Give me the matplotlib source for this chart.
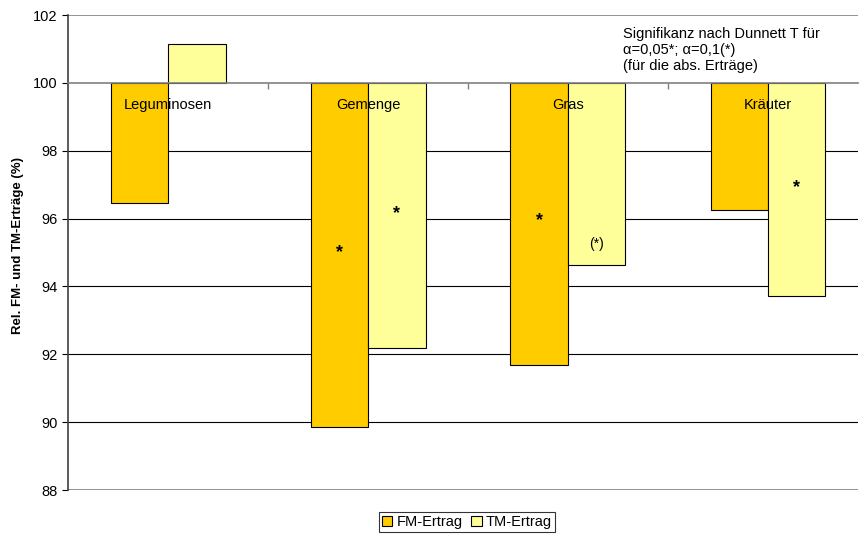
import numpy as np
import matplotlib.pyplot as plt

plt.rcParams['font.family'] = ['Liberation Sans', 'DejaVu Sans']

categories = ['Leguminosen', 'Gemenge', 'Gras', 'Kräuter']
fm_ertrag = [96.46, 89.86, 91.69, 96.24]
tm_ertrag = [101.15, 92.19, 94.64, 93.72]
# significance marks: (category index, series, y position, text)
marks = [(1, 'FM', 95.0, '*'), (1, 'TM', 96.15, '*'),
         (2, 'FM', 95.93, '*'), (2, 'TM', 95.25, '(*)'),
         (3, 'TM', 96.9, '*')]

fig = plt.figure(figsize=(8.59, 5.35), dpi=100)
ax = fig.add_axes([68 / 859, 1 - 490 / 535, 790 / 859, 475 / 535])

x = np.arange(len(categories))
w = 0.2875
base = 100
ax.bar(x - w / 2, np.array(fm_ertrag) - base, w, bottom=base, color='#FFCC00',
       edgecolor='black', linewidth=0.8, label='FM-Ertrag', zorder=3)
ax.bar(x + w / 2, np.array(tm_ertrag) - base, w, bottom=base, color='#FFFF99',
       edgecolor='black', linewidth=0.8, label='TM-Ertrag', zorder=3)

for g in [90, 92, 94, 96, 98]:
    ax.axhline(g, color='black', linewidth=0.8, zorder=1)
for g in [88, 102]:
    ax.axhline(g, color='#808080', linewidth=1.2, zorder=1)

ax.set_xlim(-0.5, 3.45)
ax.set_ylim(88, 102)
ax.set_yticks(np.arange(88, 103, 2))
ax.tick_params(axis='y', labelsize=10.5, length=4, width=0.8)

for s in ['top', 'right']:
    ax.spines[s].set_visible(False)
ax.spines['left'].set_linewidth(1.2)
ax.spines['left'].set_color('#404040')
ax.spines['bottom'].set_position(('data', 100))
ax.spines['bottom'].set_color('#808080')
ax.spines['bottom'].set_linewidth(1.2)
ax.spines['bottom'].set_zorder(4)
ax.set_xticks([0.5, 1.5, 2.5])
ax.set_xticklabels([])
ax.tick_params(axis='x', direction='out', length=4, width=1, color='#808080')

for i, c in enumerate(categories):
    ax.text(i, 99.35, c, ha='center', va='center', fontsize=10.5, zorder=5)

for i, s, yv, t in marks:
    xv = i - w / 2 if s == 'FM' else i + w / 2
    if t == '*':
        ax.text(xv, yv, t, ha='center', va='center', fontsize=13,
                fontweight='bold', zorder=5)
    else:
        ax.text(xv, yv, t, ha='center', va='center', fontsize=10, zorder=5)

ax.text(0.7025, 0.975, 'Signifikanz nach Dunnett T für\nα=0,05*; α=0,1(*)\n(für die abs. Erträge)',
        transform=ax.transAxes, ha='left', va='top', fontsize=10.5, linespacing=1.2)

ax.set_ylabel('Rel. FM- und TM-Erträge (%)', fontsize=9.5, fontweight='bold')
ax.yaxis.set_label_coords(-0.0557, 0.515)

leg = fig.legend(loc='center', bbox_to_anchor=(467 / 859, 1 - 522 / 535), ncol=2,
                 fontsize=10.5, frameon=True, fancybox=False, edgecolor='black',
                 handlelength=0.7, handleheight=0.7, handletextpad=0.3,
                 columnspacing=0.6, borderpad=0.2, borderaxespad=0)
leg.get_frame().set_linewidth(0.8)

fig.savefig('out.png', dpi=100)
